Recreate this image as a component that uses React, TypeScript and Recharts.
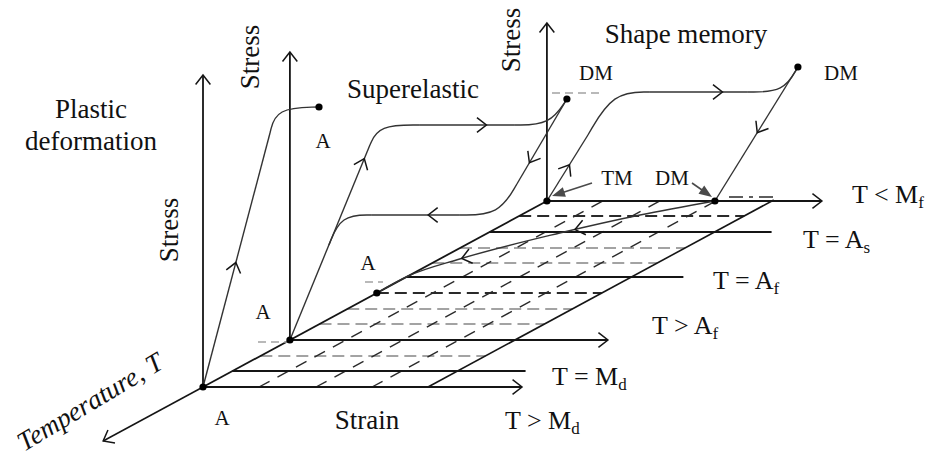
import React from 'react';
import { ComposedChart, Line, Scatter, XAxis, YAxis } from 'recharts';

const WIDTH = 933;
const HEIGHT = 460;
const SERIF = '"Liberation Serif", "Times New Roman", Times, serif';

type Pt = { x: number; y: number };
type Pair = [number, number];

// Oblique view: strain runs to the right, temperature runs back along the
// diagonal (colder further back), stress runs straight up.
const ORIGIN: Pt = { x: 203, y: 387 };
const DEPTH_RUN = 1.849;
const project = (strain: number, depth: number, stress = 0): Pt => ({
  x: ORIGIN.x + strain + DEPTH_RUN * depth,
  y: ORIGIN.y - depth - stress,
});

// ---- strain / temperature plane ----
const planeWidth = 225;
const planeDepth = 186;
const levelDepths = [0, 16, 47, 110, 155, 186];
const levelLengths = [319, 293, 318, 277, 282, 275];
const levelArrows = [true, false, true, false, false, true];
const levelNames = ['T > M', 'T = M', 'T > A', 'T = A', 'T = A', 'T < M'];
const levelSubs = ['d', 'd', 'f', 'f', 's', 'f'];
const greyDashDepths = [31, 63, 78, 124, 139];
const darkDashDepths = [94, 171];
const hatchStrains = [56, 113, 169];
const temperatureReach = -54;

// ---- stress axes standing on the plane ----
const stressAxisDepths = [0, 47, 186];
const stressAxisHeights = [312, 288, 178];

// ---- stress-strain paths, [strain, stress] ----
const plasticDepth = 0;
const plasticLoad: Pair[] = [[0, 0], [67, 254]];
const plasticYield: Pair[] = [[67, 254], [73, 279], [116, 280]];

const superDepth = 47;
const superLoad: Pair[] = [[0, 0], [80, 195]];
const superUpperBend: Pair[] = [[80, 195], [89, 215], [130, 215]];
const superUpperPlateau: Pair[] = [[130, 215], [225, 215]];
const superUpperRise: Pair[] = [[225, 215], [260, 215], [277, 241]];
const superUnload: Pair[] = [[277, 241], [227, 156]];
const superLowerBend: Pair[] = [[227, 156], [209, 125], [170, 125]];
const superLowerPlateau: Pair[] = [[170, 125], [82, 125]];
const superLowerJoin: Pair[] = [[82, 125], [51, 125], [39, 95]];

const memoryDepth = 186;
const memoryLoad: Pair[] = [[0, 0], [41, 66]];
const memoryBend: Pair[] = [[41, 66], [66, 109], [103, 109]];
const memoryPlateau: Pair[] = [[103, 109], [201, 109]];
const memoryRise: Pair[] = [[201, 109], [237, 109], [251, 134]];
const memoryUnload: Pair[] = [[251, 134], [168, 0]];

// strain recovery on heating, [strain, depth] on the plane
const recoveryPath: Pair[] = [[0, 94], [0, 111], [20, 128], [72, 154], [119, 172], [168, 186]];

// ---- text ----
const titleTexts = ['Plastic', 'deformation', 'Superelastic', 'Shape memory', 'Strain'];
const titleAt: Pair[] = [[91, 118], [91, 150], [413, 98], [686, 43], [367, 429]];
const stressAt: Pair[] = [[178, 230], [259, 57], [520, 40]];
const markTexts = ['A', 'A', 'A', 'A', 'DM', 'DM', 'TM', 'DM'];
const markAt: Pair[] = [[323, 148], [263, 319], [368, 270], [222, 425], [596, 80], [841, 80], [617, 185], [672, 185]];
const levelLabelAt: Pair[] = [[505, 429], [552, 385], [652, 334], [713, 289], [803, 248], [852, 203]];
const temperatureAt: Pair = [24, 452];

// short reference ticks and the TM / DM pointers
const greyTicks: Pair[][] = [[[258, 342], [287, 342]], [[365, 282], [383, 282]], [[552, 93], [602, 93]]];
const darkTicks: Pair[][] = [[[729, 197], [775, 197]]];
const pointers: Pair[][] = [[[592, 183], [552, 196]], [[692, 183], [712, 197]]];

// ---- styling ----
const INK = '#151515';
const CURVE = '#333333';
const GREY = '#a3a3a3';
const DARK = '#2a2a2a';
const POINTER = '#4a4a4a';
const HEAD_LEN = 12;
const HEAD_SPREAD = (38 * Math.PI) / 180;

type Stroke = { pts: Pt[]; curve: 'linear' | 'basis' | 'monotone'; color: string; width: number; dash?: string };

const onPlane = (path: Pair[], depth: number): Pt[] => path.map(([s, v]) => project(s, depth, v));
const last = <T,>(a: T[]) => a[a.length - 1];

const strokes: Stroke[] = [];
const openHeads: { x: number; y: number; dx: number; dy: number }[] = [];
const addHead = (tip: Pt, from: Pt) => openHeads.push({ x: tip.x, y: tip.y, dx: tip.x - from.x, dy: tip.y - from.y });

// plane grid
greyDashDepths.forEach((d) =>
  strokes.push({ pts: [project(0, d), project(planeWidth, d)], curve: 'linear', color: GREY, width: 2, dash: '12 6' })
);
darkDashDepths.forEach((d) =>
  strokes.push({ pts: [project(0, d), project(planeWidth, d)], curve: 'linear', color: DARK, width: 1.8, dash: '12 6' })
);
hatchStrains.forEach((s) =>
  strokes.push({ pts: [project(s, 0), project(s, planeDepth)], curve: 'linear', color: DARK, width: 1.4, dash: '12 9' })
);
strokes.push({ pts: [project(planeWidth, 0), project(planeWidth, planeDepth + 1)], curve: 'linear', color: INK, width: 1.6 });
strokes.push({ pts: [project(0, 0), project(0, planeDepth)], curve: 'linear', color: INK, width: 1.8 });
levelDepths.forEach((d, i) => {
  const a = project(0, d);
  const b = project(levelLengths[i], d);
  strokes.push({ pts: [a, b], curve: 'linear', color: INK, width: 2 });
  if (levelArrows[i]) addHead(b, a);
});

// temperature axis
{
  const a = project(0, 0);
  const b = project(0, temperatureReach);
  strokes.push({ pts: [a, b], curve: 'linear', color: INK, width: 1.5 });
  addHead(b, a);
}

// stress axes
stressAxisDepths.forEach((d, i) => {
  const a = project(0, d, 0);
  const b = project(0, d, stressAxisHeights[i]);
  strokes.push({ pts: [a, b], curve: 'linear', color: INK, width: 1.8 });
  addHead(b, a);
});

// stress-strain curves
const curveSet: [Pair[], number, 'linear' | 'basis'][] = [
  [plasticLoad, plasticDepth, 'linear'],
  [plasticYield, plasticDepth, 'basis'],
  [superLoad, superDepth, 'linear'],
  [superUpperBend, superDepth, 'basis'],
  [superUpperPlateau, superDepth, 'linear'],
  [superUpperRise, superDepth, 'basis'],
  [superUnload, superDepth, 'linear'],
  [superLowerBend, superDepth, 'basis'],
  [superLowerPlateau, superDepth, 'linear'],
  [superLowerJoin, superDepth, 'basis'],
  [memoryLoad, memoryDepth, 'linear'],
  [memoryBend, memoryDepth, 'basis'],
  [memoryPlateau, memoryDepth, 'linear'],
  [memoryRise, memoryDepth, 'basis'],
  [memoryUnload, memoryDepth, 'linear'],
];
curveSet.forEach(([path, depth, curve]) =>
  strokes.push({ pts: onPlane(path, depth), curve, color: CURVE, width: 1.4 })
);

// recovery on heating
const recoveryPts = recoveryPath.map(([s, d]) => project(s, d));
strokes.push({ pts: recoveryPts, curve: 'monotone', color: CURVE, width: 1.4 });

// direction marks along the paths
const pathMarks: [Pair[], number, number][] = [
  [plasticLoad, plasticDepth, 0.49],
  [superLoad, superDepth, 0.93],
  [superUpperPlateau, superDepth, 0.7],
  [superUnload, superDepth, 0.75],
  [superLowerPlateau, superDepth, 0.36],
  [memoryLoad, memoryDepth, 0.55],
  [memoryPlateau, memoryDepth, 0.74],
  [memoryUnload, memoryDepth, 0.49],
];
pathMarks.forEach(([path, depth, t]) => {
  const [a, b] = [path[0], last(path)];
  const tip = project(a[0] + (b[0] - a[0]) * t, depth, a[1] + (b[1] - a[1]) * t);
  const start = project(a[0], depth, a[1]);
  addHead(tip, start);
});
const recoveryMarks: [number, number][] = [[4, 0.81], [3, 0.98]];
recoveryMarks.forEach(([seg, t]) => {
  const a = recoveryPts[seg];
  const b = recoveryPts[seg - 1];
  addHead({ x: a.x + (b.x - a.x) * t, y: a.y + (b.y - a.y) * t }, a);
});

// reference ticks and pointers
greyTicks.forEach((seg) =>
  strokes.push({ pts: seg.map(([x, y]) => ({ x, y })), curve: 'linear', color: GREY, width: 1.3, dash: '8 5' })
);
darkTicks.forEach((seg) =>
  strokes.push({ pts: seg.map(([x, y]) => ({ x, y })), curve: 'linear', color: DARK, width: 1.3, dash: '14 6 4 6' })
);
const pointerHeads = pointers.map(([from, to]) => {
  strokes.push({
    pts: [{ x: from[0], y: from[1] }, { x: to[0] - (to[0] - from[0]) * 0.25, y: to[1] - (to[1] - from[1]) * 0.25 }],
    curve: 'linear',
    color: POINTER,
    width: 1.6,
  });
  return { x: to[0], y: to[1], dx: to[0] - from[0], dy: to[1] - from[1] };
});

const dots: Pt[] = [
  project(0, 0),
  project(0, superDepth),
  project(0, 94),
  project(0, memoryDepth),
  project(168, memoryDepth),
  onPlane([last(plasticYield)], plasticDepth)[0],
  onPlane([last(superUpperRise)], superDepth)[0],
  onPlane([last(memoryRise)], memoryDepth)[0],
];

const titles = titleTexts.map((text, i) => ({ x: titleAt[i][0], y: titleAt[i][1], text }));
const stressTitles = stressAt.map(([x, y]) => ({ x, y, text: 'Stress' }));
const marks = markTexts.map((text, i) => ({ x: markAt[i][0], y: markAt[i][1], text }));
const levelLabels = levelNames.map((text, i) => ({ x: levelLabelAt[i][0], y: levelLabelAt[i][1], text, sub: levelSubs[i] }));
const temperatureLabel = [{ x: temperatureAt[0], y: temperatureAt[1], text: 'Temperature, T' }];

// ---- shapes ----
const unit = (dx: number, dy: number) => {
  const n = Math.hypot(dx, dy) || 1;
  return [dx / n, dy / n];
};

function Chevron(props: any) {
  const { cx, cy } = props;
  const p = props.payload ?? props;
  const [ux, uy] = unit(p.dx, p.dy);
  const bx = -ux;
  const by = -uy;
  const c = Math.cos(HEAD_SPREAD);
  const s = Math.sin(HEAD_SPREAD);
  const a1x = cx + (bx * c - by * s) * HEAD_LEN;
  const a1y = cy + (bx * s + by * c) * HEAD_LEN;
  const a2x = cx + (bx * c + by * s) * HEAD_LEN;
  const a2y = cy + (-bx * s + by * c) * HEAD_LEN;
  return <path d={`M${a1x},${a1y}L${cx},${cy}L${a2x},${a2y}`} fill="none" stroke={INK} strokeWidth={1.5} />;
}

function SolidHead(props: any) {
  const { cx, cy } = props;
  const p = props.payload ?? props;
  const [ux, uy] = unit(p.dx, p.dy);
  const L = 13;
  const hw = 5;
  const bx = cx - ux * L;
  const by = cy - uy * L;
  return <path d={`M${cx},${cy}L${bx - uy * hw},${by + ux * hw}L${bx + uy * hw},${by - ux * hw}Z`} fill={POINTER} />;
}

function Dot(props: any) {
  return <circle cx={props.cx} cy={props.cy} r={3.6} fill="#000" />;
}

function Title(props: any) {
  const p = props.payload ?? props;
  return (
    <text x={props.cx} y={props.cy} textAnchor="middle" fontFamily={SERIF} fontSize={27} fill="#111">
      {p.text}
    </text>
  );
}

function StressTitle(props: any) {
  const p = props.payload ?? props;
  return (
    <text
      x={props.cx}
      y={props.cy}
      transform={`rotate(-90 ${props.cx} ${props.cy})`}
      textAnchor="middle"
      fontFamily={SERIF}
      fontSize={27}
      fill="#111"
    >
      {p.text}
    </text>
  );
}

function Mark(props: any) {
  const p = props.payload ?? props;
  return (
    <text x={props.cx} y={props.cy} textAnchor="middle" fontFamily={SERIF} fontSize={21} fill="#111">
      {p.text}
    </text>
  );
}

function LevelLabel(props: any) {
  const p = props.payload ?? props;
  return (
    <text x={props.cx} y={props.cy} textAnchor="start" fontFamily={SERIF} fontSize={26} fill="#111">
      {p.text}
      <tspan dy={5} fontSize={17}>
        {p.sub}
      </tspan>
    </text>
  );
}

function TemperatureTitle(props: any) {
  const p = props.payload ?? props;
  return (
    <text
      x={props.cx}
      y={props.cy}
      transform={`rotate(-31 ${props.cx} ${props.cy})`}
      textAnchor="start"
      fontFamily={SERIF}
      fontStyle="italic"
      fontSize={27}
      fill="#111"
    >
      {p.text}
    </text>
  );
}

export default function App() {
  return (
    <div style={{ position: 'absolute', left: 0, top: 0, width: WIDTH, height: HEIGHT, background: '#fff' }}>
      <ComposedChart width={WIDTH} height={HEIGHT} margin={{ top: 0, right: 0, bottom: 0, left: 0 }}>
        <XAxis type="number" dataKey="x" domain={[0, WIDTH]} hide allowDataOverflow />
        <YAxis type="number" dataKey="y" domain={[0, HEIGHT]} reversed hide allowDataOverflow />
        {strokes.map((s, i) => (
          <Line
            key={`stroke-${i}`}
            data={s.pts}
            dataKey="y"
            type={s.curve}
            stroke={s.color}
            strokeWidth={s.width}
            strokeDasharray={s.dash}
            dot={false}
            activeDot={false}
            isAnimationActive={false}
            legendType="none"
          />
        ))}
        <Scatter data={openHeads} shape={Chevron} isAnimationActive={false} />
        <Scatter data={pointerHeads} shape={SolidHead} isAnimationActive={false} />
        <Scatter data={dots} shape={Dot} isAnimationActive={false} />
        <Scatter data={titles} shape={Title} isAnimationActive={false} />
        <Scatter data={stressTitles} shape={StressTitle} isAnimationActive={false} />
        <Scatter data={marks} shape={Mark} isAnimationActive={false} />
        <Scatter data={levelLabels} shape={LevelLabel} isAnimationActive={false} />
        <Scatter data={temperatureLabel} shape={TemperatureTitle} isAnimationActive={false} />
      </ComposedChart>
    </div>
  );
}
